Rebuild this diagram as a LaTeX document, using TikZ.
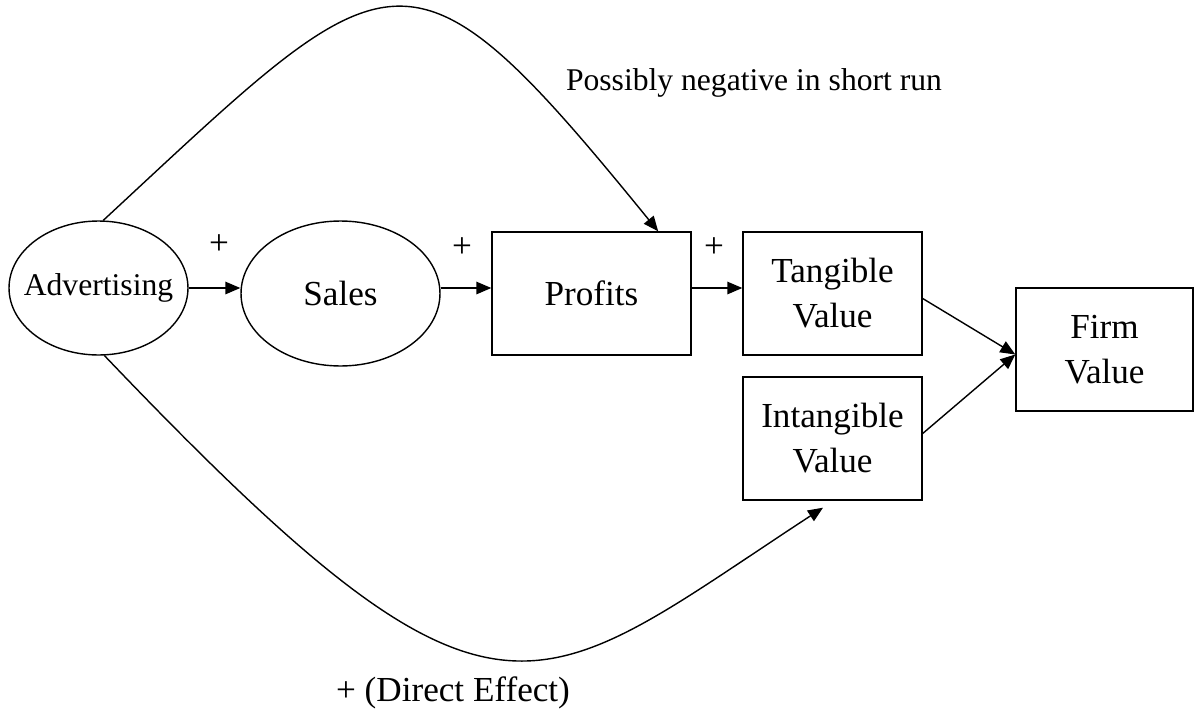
\documentclass[tikz,border=0pt]{standalone}
\usepackage{fontspec}
\setmainfont{Liberation Serif}
\usetikzlibrary{arrows.meta, calc, shapes.geometric}

\begin{document}
\begin{tikzpicture}[x=0.02cm, y=-0.02cm, line width=0.8pt,
            >={Triangle[length=3mm, width=2.5mm]},
            oval/.style={ellipse, draw, inner sep=0pt},
            box/.style={rectangle, draw, inner sep=0pt, align=center,
                minimum width=3.58cm, minimum height=2.46cm},
            lbl/.style={draw=none, inner sep=0pt}]
        \tikzstyle{every node}=[font=\fontsize{20}{25.6}\selectfont]
        \useasboundingbox (0,0) rectangle (1194,717);
        \node[oval, minimum width=3.58cm, minimum height=2.68cm,
            font=\fontsize{18}{22}\selectfont] (adv) at (98.5,288) {\makebox[0pt]{Advertising}};
        \node[oval, minimum width=3.98cm, minimum height=2.9cm] (sales) at (340.5,293.5) {Sales};
        \node[box, minimum width=3.98cm] (profits) at (591.5,293.5) {Profits};
        \node[box] (tangible) at (832.5,293.5) {Tangible\\Value};
        \node[box] (intangible) at (832.5,438.5) {Intangible\\Value};
        \node[box, minimum width=3.54cm] (firm) at (1104.5,349.5) {Firm\\Value};
        % main chain
        \draw[->] (adv.east) -- (adv.east -| sales.west);
        \draw[->] (sales.east |- adv.east) -- (profits.west |- adv.east);
        \draw[->] (profits.east |- adv.east) -- (tangible.west |- adv.east);
        \node[lbl] (plus1) at (219,245) {+};
        \node[lbl] (plus2) at (462,248) {+};
        \node[lbl] (plus3) at (714,248) {+};
        % into firm value
        \draw[->] ([yshift=-0.1cm]tangible.east) -- ([yshift=-0.1cm]firm.west);
        \draw[->] ([yshift=0.1cm]intangible.east) -- ([yshift=-0.1cm]firm.west);
        % the two long paths
        \draw[->] (adv.86) .. controls (395,-50) and (405,-80) .. (profits.43);
        \node[lbl, font=\fontsize{18}{22}\selectfont] (shortrun) at (754,83) {Possibly negative in short run};
        \draw[->] (adv.-85) .. controls (500,770) and (530,699) .. ([shift={(-9.5,7)}]intangible.south);
        \node[lbl] (direct) at (453,693) {+ (Direct Effect)};
    \end{tikzpicture}
\end{document}
